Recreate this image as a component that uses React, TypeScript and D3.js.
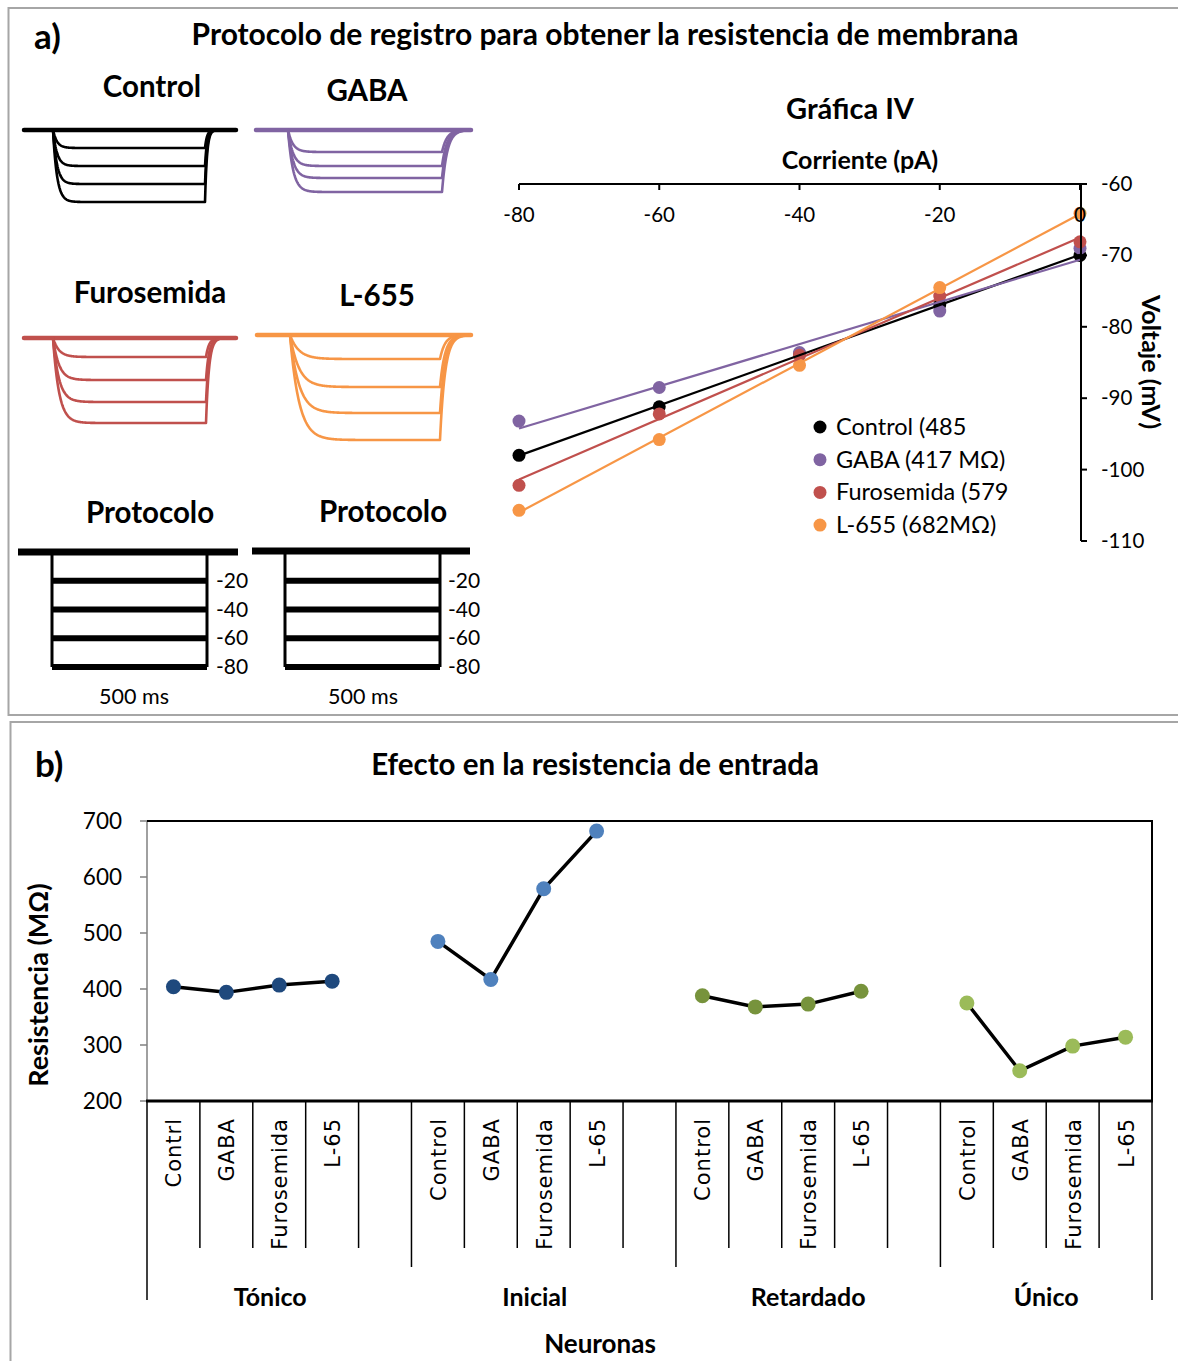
import * as d3 from "d3";

// ---- data ----
const ivCurrents = [-80, -60, -40, -20, 0];
const ivControl = [-98.0, -91.2, -83.8, -76.9, -70.0];
const ivGaba = [-93.2, -88.5, -83.6, -77.8, -69.0];
const ivFuro = [-102.2, -92.2, -84.0, -75.7, -68.1];
const ivL655 = [-105.7, -95.8, -85.4, -74.5, -64.1];
const ivNames = ["Control (485", "GABA (417 MΩ)", "Furosemida (579", "L-655 (682MΩ)"];
const ivTicksX = [-80, -60, -40, -20, 0];
const ivTicksY = [-60, -70, -80, -90, -100, -110];

const protocolSteps = [-20, -40, -60, -80];

// steady-state deflections of the example traces (arbitrary units)
const traceControl = [18, 36, 54, 72];
const traceGaba = [22, 36, 48, 62];
const traceFuro = [19, 42, 64, 85];
const traceL655 = [24, 52, 78, 105];

const groups = ["Tónico", "Inicial", "Retardado", "Único"];
const treatments = ["Control", "GABA", "Furosemida", "L-65"];
const resTonico = [404, 394, 407, 414];
const resInicial = [485, 417, 579, 682];
const resRetardado = [388, 368, 373, 396];
const resUnico = [375, 254, 298, 314];
const resTicks = [200, 300, 400, 500, 600, 700];

const colors = ["#000000", "#8064A2", "#C0504D", "#F79646"];
const groupColors = ["#1F497D", "#4F81BD", "#77933C", "#9BBB59"];

const FONT = "Lato, 'Open Sans', sans-serif";

function fit(xs: number[], ys: number[]) {
  const mx = d3.mean(xs)!;
  const my = d3.mean(ys)!;
  const sxy = d3.sum(xs, (x, i) => (x - mx) * (ys[i] - my));
  const sxx = d3.sum(xs, (x) => (x - mx) * (x - mx));
  const b = sxy / sxx;
  return (x: number) => my + b * (x - mx);
}

type TraceSpec = {
  levels: number[];
  x0: number;
  x1: number;
  base: number;
  on: number;
  off: number;
  tauOn: number;
  tauOff: number;
  color: string;
};

function tracePaths(s: TraceSpec) {
  const y = d3.scaleLinear().domain([0, 100]).range([s.base, s.base + 100]);
  const line = d3.line<[number, number]>().x((d) => d[0]).y((d) => d[1]);
  return s.levels.map((lv) => {
    const pts: [number, number][] = [];
    const vOff = lv * (1 - Math.exp(-(s.off - s.on) / s.tauOn));
    for (let t = s.x0; t <= s.x1; t += 0.5) {
      let v = 0;
      if (t >= s.on && t < s.off) v = lv * (1 - Math.exp(-(t - s.on) / s.tauOn));
      else if (t >= s.off) v = vOff * Math.exp(-(t - s.off) / s.tauOff);
      pts.push([t, y(v)]);
    }
    return line(pts) as string;
  });
}

const traceSpecs: TraceSpec[] = [
  { levels: traceControl, x0: 24, x1: 236, base: 130, on: 53, off: 205, tauOn: 4, tauOff: 2, color: colors[0] },
  { levels: traceGaba, x0: 256, x1: 471, base: 130, on: 288, off: 442, tauOn: 5, tauOff: 5, color: colors[1] },
  { levels: traceFuro, x0: 24, x1: 236, base: 338, on: 53, off: 206, tauOn: 6, tauOff: 3, color: colors[2] },
  { levels: traceL655, x0: 257, x1: 471, base: 335, on: 290, off: 440, tauOn: 9, tauOff: 5, color: colors[3] },
];

const traceTitles = [
  { t: "Control", x: 152, y: 97 },
  { t: "GABA", x: 367, y: 101 },
  { t: "Furosemida", x: 150, y: 303 },
  { t: "L-655", x: 377, y: 306 },
];

export default function App() {
  // IV chart
  const ix = d3.scaleLinear().domain([-80, 0]).range([519, 1080]);
  const iy = d3.scaleLinear().domain([-110, -60]).range([541, 184]);
  const ivSeries = [ivControl, ivGaba, ivFuro, ivL655];

  // protocol
  const py = d3.scaleLinear().domain([-80, 0]).range([667, 552]);
  const protocols = [
    { x0: 18, x1: 238, on: 52, off: 207, lab: 216, ms: 134, dy: 0 },
    { x0: 252, x1: 470, on: 285, off: 440, lab: 448, ms: 363, dy: -1 },
  ];

  // bottom chart
  const nSlots = 19;
  const bx = d3
    .scaleBand<number>()
    .domain(d3.range(nSlots))
    .range([147, 1152])
    .padding(0);
  const by = d3.scaleLinear().domain([200, 700]).range([1101, 821]);
  const resSeries = [resTonico, resInicial, resRetardado, resUnico];
  const bw = bx.bandwidth();

  return (
    <svg
      width={1178}
      height={1361}
      style={{ position: "absolute", left: 0, top: 0, background: "#fff" }}
      fontFamily={FONT}
    >
      <rect x={0} y={0} width={1178} height={1361} fill="#fff" />
      {/* panel borders */}
      <path d="M1180,8 H8.5 V715 H1180" fill="none" stroke="#A6A6A6" strokeWidth={2} />
      <path d="M1180,722 H10.5 V1365" fill="none" stroke="#A6A6A6" strokeWidth={2} />

      {/* panel a */}
      <text x={34} y={49} fontSize={35} fontWeight={700}>a)</text>
      <text x={605} y={45} fontSize={30} fontWeight={700} textAnchor="middle">
        Protocolo de registro para obtener la resistencia de membrana
      </text>

      {traceTitles.map((d) => (
        <text key={d.t} x={d.x} y={d.y} fontSize={29.5} fontWeight={700} textAnchor="middle">
          {d.t}
        </text>
      ))}
      {traceSpecs.map((s, k) => (
        <g key={k} fill="none" stroke={s.color} strokeLinejoin="round" strokeLinecap="round">
          <line x1={s.x0} x2={s.x1} y1={s.base} y2={s.base} strokeWidth={4.5} />
          {tracePaths(s).map((d, i) => (
            <path key={i} d={d} strokeWidth={2.6} />
          ))}
        </g>
      ))}

      {/* protocols */}
      <text x={150} y={523} fontSize={29.5} fontWeight={700} textAnchor="middle">Protocolo</text>
      <text x={383} y={522} fontSize={29.5} fontWeight={700} textAnchor="middle">Protocolo</text>
      {protocols.map((p, k) => (
        <g key={k}>
          <line x1={p.x0} x2={p.x1} y1={py(0) + p.dy} y2={py(0) + p.dy} stroke="#000" strokeWidth={7} />
          <line x1={p.on} x2={p.on} y1={py(0)} y2={py(-80)} stroke="#000" strokeWidth={3} />
          <line x1={p.off} x2={p.off} y1={py(0)} y2={py(-80)} stroke="#000" strokeWidth={3} />
          {protocolSteps.map((s) => (
            <g key={s}>
              <line x1={p.on} x2={p.off} y1={py(s)} y2={py(s)} stroke="#000" strokeWidth={6} />
              <text x={p.lab} y={py(s) + 7} fontSize={21}>{s}</text>
            </g>
          ))}
          <text x={p.ms} y={704} fontSize={21.5} textAnchor="middle">500 ms</text>
        </g>
      ))}

      {/* IV chart */}
      <text x={850} y={119} fontSize={29} fontWeight={700} textAnchor="middle">Gráfica IV</text>
      <text x={860} y={169} fontSize={25} fontWeight={700} textAnchor="middle">Corriente (pA)</text>
      {ivSeries.map((ser, k) =>
        ser.map((v, i) => (
          <circle key={`${k}-${i}`} cx={ix(ivCurrents[i])} cy={iy(v)} r={6.5} fill={colors[k]} />
        ))
      )}
      {ivSeries.map((ser, k) => {
        const f = fit(ivCurrents, ser);
        return (
          <line
            key={k}
            x1={ix(-80)}
            x2={ix(0)}
            y1={iy(f(-80))}
            y2={iy(f(0))}
            stroke={colors[k]}
            strokeWidth={2.2}
          />
        );
      })}
      <line x1={519} x2={1081} y1={184} y2={184} stroke="#000" strokeWidth={2} />
      <line x1={1081} x2={1081} y1={183} y2={541} stroke="#000" strokeWidth={2} />
      {ivTicksX.map((t) => (
        <g key={t}>
          <line x1={ix(t)} x2={ix(t)} y1={184} y2={190} stroke="#000" strokeWidth={2} />
          <text x={ix(t)} y={222} fontSize={20.5} textAnchor="middle">{t}</text>
        </g>
      ))}
      {ivTicksY.map((t) => (
        <g key={t}>
          <line x1={1081} x2={1087} y1={iy(t)} y2={iy(t)} stroke="#000" strokeWidth={2} />
          <text x={1101} y={iy(t) + 7} fontSize={20.5}>{t}</text>
        </g>
      ))}
      <text
        transform="translate(1142,362) rotate(90)"
        fontSize={25}
        fontWeight={700}
        textAnchor="middle"
      >
        Voltaje (mV)
      </text>
      {ivNames.map((n, k) => (
        <g key={n}>
          <circle cx={820} cy={427 + k * 32.7} r={6.5} fill={colors[k]} />
          <text x={836} y={435 + k * 32.7} fontSize={23.5}>{n}</text>
        </g>
      ))}

      {/* panel b */}
      <text x={35} y={777} fontSize={35} fontWeight={700}>b)</text>
      <text x={595} y={775} fontSize={29.5} fontWeight={700} textAnchor="middle">
        Efecto en la resistencia de entrada
      </text>

      {/* y axis */}
      <line x1={147} x2={147} y1={821} y2={1101} stroke="#808080" strokeWidth={1.5} />
      {resTicks.map((t) => (
        <g key={t}>
          <line x1={140} x2={147} y1={by(t)} y2={by(t)} stroke="#808080" strokeWidth={1.5} />
          <text x={122} y={by(t) + 8} fontSize={22.5} textAnchor="end">{t}</text>
        </g>
      ))}
      <text
        transform="translate(48,985) rotate(-90)"
        fontSize={27}
        fontWeight={700}
        textAnchor="middle"
      >
        Resistencia (MΩ)
      </text>

      {/* plot frame */}
      <path d="M147,821 H1152 V1101" fill="none" stroke="#000" strokeWidth={2} />

      {/* series */}
      {resSeries.map((ser, g) => {
        const pts = ser.map((v, i) => [bx(g * 5 + i)! + bw / 2, by(v)] as [number, number]);
        return (
          <g key={g}>
            <path d={d3.line()(pts) as string} fill="none" stroke="#000" strokeWidth={3.5} />
            {pts.map((p, i) => (
              <circle key={i} cx={p[0]} cy={p[1]} r={7.5} fill={groupColors[g]} />
            ))}
          </g>
        );
      })}

      {/* category axis */}
      <line x1={146} x2={1153} y1={1101} y2={1101} stroke="#000" strokeWidth={3} />
      {d3.range(nSlots + 1).map((i) => {
        const x = i === nSlots ? 1152 : bx(i)!;
        const len = i === 0 || i === nSlots ? 1300 : i % 5 === 0 ? 1267 : 1248;
        return <line key={i} x1={x} x2={x} y1={1101} y2={len} stroke="#000" strokeWidth={1.5} />;
      })}
      {groups.map((g, gi) =>
        treatments.map((t, i) => {
          const label = gi === 0 && i === 0 ? "Contrl" : t;
          const x = bx(gi * 5 + i)! + bw / 2 + 8;
          return (
            <text
              key={`${g}-${t}`}
              transform={`translate(${x},1118) rotate(-90)`}
              fontSize={21}
              fontFamily="'DejaVu Sans', sans-serif"
              textAnchor="end"
              letterSpacing={1}
            >
              {label}
            </text>
          );
        })
      )}
      {groups.map((g, gi) => {
        const a = bx(gi * 5)!;
        const b = gi === 3 ? 1152 : bx(gi * 5 + 5)!;
        const cx = gi < 2 ? (a + b) / 2 - 9 : (a + b) / 2;
        return (
          <text key={g} x={cx} y={1306} fontSize={25} fontWeight={700} textAnchor="middle">
            {g}
          </text>
        );
      })}
      <text x={600} y={1353} fontSize={26} fontWeight={700} textAnchor="middle">Neuronas</text>
    </svg>
  );
}
